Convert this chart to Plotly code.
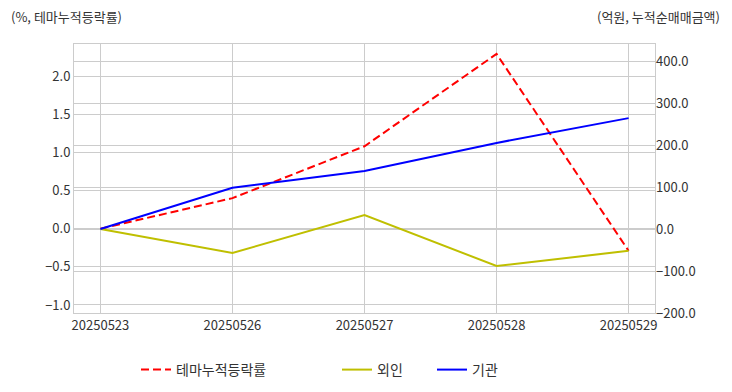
import plotly.graph_objects as go

dates = ["20250523", "20250526", "20250527", "20250528", "20250529"]
theme_rate = [0.0, 0.40, 1.08, 2.29, -0.29]
foreign = [0.0, -57.0, 33.0, -88.0, -52.0]
institution = [0.0, 98.0, 138.0, 205.0, 264.0]

left_ticks = [-1.0, -0.5, 0.0, 0.5, 1.0, 1.5, 2.0]
right_ticks = [-200, -100, 0, 100, 200, 300, 400]

FONT = "Noto Sans CJK KR"
TXT = "#333333"
GRID = "#cccccc"

fig = go.Figure()
fig.add_trace(go.Scatter(x=dates, y=theme_rate, mode="lines", name="테마누적등락률",
                         line=dict(color="#ff0000", width=2, dash="8px,4px"),
                         yaxis="y", legend="legend", showlegend=True))
fig.add_trace(go.Scatter(x=dates, y=foreign, mode="lines", name="외인",
                         line=dict(color="#bfbf00", width=2),
                         yaxis="y2", legend="legend2", showlegend=True))
fig.add_trace(go.Scatter(x=dates, y=institution, mode="lines", name="기관",
                         line=dict(color="#0000ff", width=2),
                         yaxis="y2", legend="legend3", showlegend=True))

leg_common = dict(orientation="h", xref="container", yref="container",
                  yanchor="middle", xanchor="left", bgcolor="rgba(0,0,0,0)",
                  font=dict(family=FONT, size=14, color=TXT))

fig.update_layout(
    width=732, height=392,
    showlegend=True,
    margin=dict(l=74, r=77, t=44, b=79),
    paper_bgcolor="white", plot_bgcolor="white",
    font=dict(family=FONT, size=13, color=TXT),
    xaxis=dict(type="category", range=[-0.2, 4.2], showgrid=True, gridcolor=GRID,
               gridwidth=1, showline=True, linecolor=GRID, linewidth=1, mirror=True,
               ticks="", tickfont=dict(size=13, color=TXT), zeroline=False),
    yaxis=dict(range=[-1.105, 2.42], tickvals=left_ticks, tickformat=".1f",
               showgrid=True, gridcolor=GRID, gridwidth=1, zeroline=False,
               showline=True, linecolor=GRID, linewidth=1, mirror=True, ticks="",
               tickfont=dict(size=13, color=TXT)),
    yaxis2=dict(range=[-200, 440.5], tickvals=right_ticks, tickformat=".1f",
                overlaying="y", side="right", showgrid=True, gridcolor=GRID,
                gridwidth=1, zeroline=False, ticks="",
                tickfont=dict(size=13, color=TXT)),
    legend=dict(x=136/732, y=1 - 370/392, **leg_common),
    legend2=dict(x=337/732, y=1 - 370/392, **leg_common),
    legend3=dict(x=432/732, y=1 - 370/392, **leg_common),
    annotations=[
        dict(text="(%, 테마누적등락률)", xref="paper", yref="paper", x=0, y=1,
             xshift=-65, yshift=28, xanchor="left", yanchor="middle", showarrow=False,
             font=dict(family=FONT, size=13, color=TXT)),
        dict(text="(억원, 누적순매매금액)", xref="paper", yref="paper", x=1, y=1,
             xshift=67, yshift=28, xanchor="right", yanchor="middle", showarrow=False,
             font=dict(family=FONT, size=13, color=TXT)),
    ],
)

fig.write_html("out.html", config={"displayModeBar": False},
               post_script="document.body.style.margin='0';")
